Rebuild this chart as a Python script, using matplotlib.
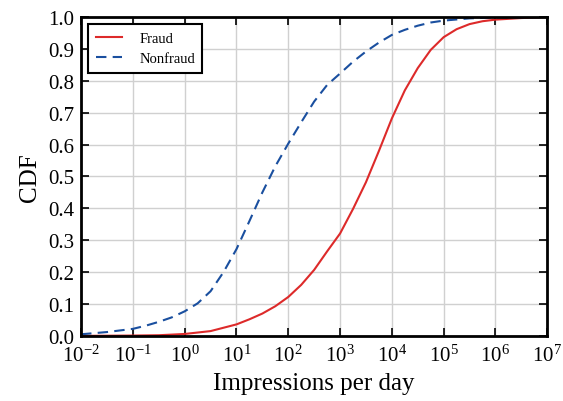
import numpy as np
import matplotlib
matplotlib.use("Agg")
import matplotlib.pyplot as plt

plt.rcParams['font.family'] = ['Liberation Serif', 'DejaVu Serif']
plt.rcParams['mathtext.fontset'] = 'stix'

# log10(impressions per day) -> CDF
fraud_logx = [-2, -1, -0.5, 0, 0.5, 1, 1.25, 1.5, 1.75, 2, 2.25, 2.5, 2.75, 3, 3.25, 3.5,
              3.75, 4, 4.25, 4.5, 4.75, 5, 5.25, 5.5, 5.75, 6, 6.5, 7]
fraud_cdf = [0.0, 0.001, 0.002, 0.006, 0.015, 0.036, 0.052, 0.07, 0.093, 0.122, 0.16, 0.207,
             0.265, 0.321, 0.398, 0.482, 0.58, 0.682, 0.77, 0.84, 0.897, 0.937, 0.962, 0.978,
             0.987, 0.992, 0.997, 1.0]

nonfraud_logx = [-2, -1.5, -1, -0.75, -0.5, -0.25, 0, 0.25, 0.5, 0.75, 1, 1.25, 1.5, 1.75, 2,
                 2.25, 2.5, 2.75, 3, 3.25, 3.5, 3.75, 4, 4.25, 4.5, 4.75, 5, 5.5, 6, 7]
nonfraud_cdf = [0.005, 0.012, 0.022, 0.032, 0.044, 0.058, 0.077, 0.102, 0.14, 0.2, 0.272, 0.36,
                0.45, 0.532, 0.603, 0.67, 0.735, 0.787, 0.823, 0.86, 0.892, 0.92, 0.944, 0.96,
                0.973, 0.983, 0.989, 0.996, 0.999, 1.0]

fig = plt.figure(figsize=(5.63, 4.02), dpi=100)
ax = fig.add_axes([0.144, 0.162, 0.828, 0.793])

ax.plot(10 ** np.array(fraud_logx), fraud_cdf, color='#dd2a2a', lw=1.5, label='Fraud')
ax.plot(10 ** np.array(nonfraud_logx), nonfraud_cdf, color='#1a4f9f', lw=1.5, ls=(0, (5, 3)), label='Nonfraud')

ax.set_xscale('log')
ax.set_xlim(1e-2, 1e7)
ax.set_ylim(0, 1.0)
ax.set_xticks([10.0 ** k for k in range(-2, 8)])
ax.set_yticks(np.arange(0, 1.01, 0.1))
ax.set_yticklabels(['%.1f' % v for v in np.arange(0, 1.01, 0.1)])
ax.grid(True, which='major', color='#d0d0d0', lw=1)
ax.set_axisbelow(True)

ax.tick_params(which='both', direction='in', top=True, right=True, labelsize=15, pad=5)
ax.tick_params(axis='x', which='major', pad=6)
ax.tick_params(which='major', length=6, width=1.2)
ax.tick_params(which='minor', length=3, width=1)
for s in ax.spines.values():
    s.set_linewidth(2)

ax.set_xlabel('Impressions per day', fontsize=18, labelpad=5)
ax.set_ylabel('CDF', fontsize=18, labelpad=5)

leg = ax.legend(loc='upper left', fontsize=10.5, fancybox=False, framealpha=1,
                edgecolor='black', borderpad=0.5, handlelength=1.8, handletextpad=1.2)
leg.get_frame().set_linewidth(1.5)

fig.savefig('out.png', dpi=100)
